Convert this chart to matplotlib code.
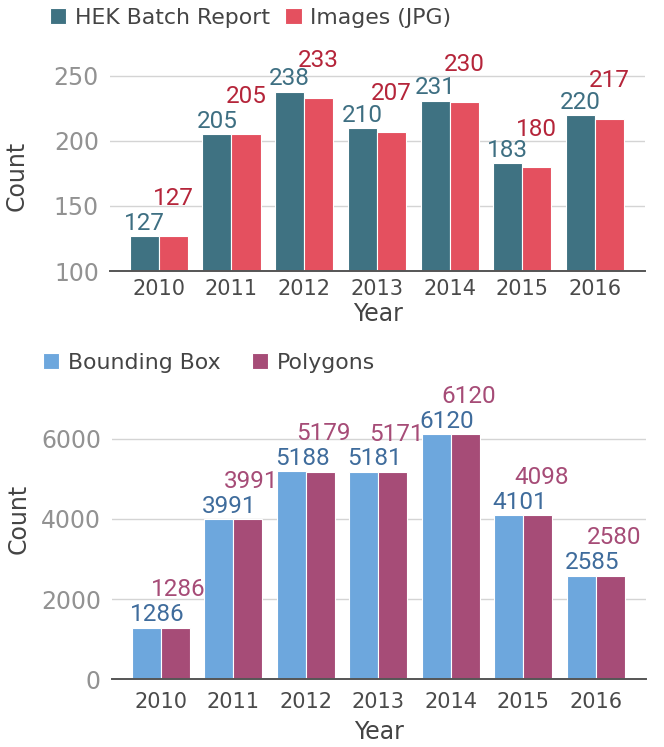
import numpy as np
import matplotlib.pyplot as plt

years = ['2010', '2011', '2012', '2013', '2014', '2015', '2016']
hek_reports = [127, 205, 238, 210, 231, 183, 220]
jpg_images = [127, 205, 233, 207, 230, 180, 217]
bounding_box = [1286, 3991, 5188, 5181, 6120, 4101, 2585]
polygons = [1286, 3991, 5179, 5171, 6120, 4098, 2580]

plt.rcParams['font.family'] = 'DejaVu Sans'

fig = plt.figure(figsize=(6.64, 7.47), dpi=100)
ax1 = fig.add_axes([0.1657, 0.6372, 0.806, 0.296])
ax2 = fig.add_axes([0.1687, 0.091, 0.804, 0.391])

x = np.arange(len(years))
w = 0.4


def draw(ax, a, b, names, colors, label_colors, ylim, yticks, shift, pads, ycount):
    ax.bar(x - w / 2, a, w, color=colors[0], edgecolor='white', linewidth=0.8,
           label=names[0], zorder=2)
    ax.bar(x + w / 2, b, w, color=colors[1], edgecolor='white', linewidth=0.8,
           label=names[1], zorder=2)
    for i in range(len(x)):
        ax.annotate(str(a[i]), (x[i] - w / 2 + shift[0], a[i]), xytext=(0, 1),
                    textcoords='offset points', ha='center', va='bottom',
                    fontsize=17.5, family='Roboto', color=label_colors[0])
        ax.annotate(str(b[i]), (x[i] + w / 2 + shift[1], b[i]), xytext=(0, 19),
                    textcoords='offset points', ha='center', va='bottom',
                    fontsize=17.5, family='Roboto', color=label_colors[1])
    ax.set_ylim(*ylim)
    ax.set_xlim(-0.67, 6.69)
    ax.set_yticks(yticks)
    ax.set_xticks(x)
    ax.set_xticklabels(years)
    ax.tick_params(axis='x', length=0, labelsize=15, colors='#4a4a4a', pad=pads[0])
    ax.tick_params(axis='y', length=0, labelsize=17, colors='#929292', pad=8)
    ax.grid(axis='y', color='#d4d4d4', linewidth=1, zorder=0)
    for s in ['top', 'right', 'left']:
        ax.spines[s].set_visible(False)
    ax.spines['bottom'].set_color('#555555')
    ax.spines['bottom'].set_linewidth(1.4)
    ax.spines['bottom'].set_zorder(3)
    ax.set_xlabel('Year', fontsize=17, color='#444444', labelpad=pads[1])
    ax.set_ylabel('Count', fontsize=17, color='#444444')
    ax.yaxis.set_label_coords(-0.152, ycount)


draw(ax1, hek_reports, jpg_images, ['HEK Batch Report', 'Images (JPG)'],
     ['#3f7282', '#e4505f'], ['#3e6f82', '#b5253a'], (100, 270),
     [100, 150, 200, 250], (0, 0), (6, 2), 0.43)
draw(ax2, bounding_box, polygons, ['Bounding Box', 'Polygons'],
     ['#6da7dd', '#a64c77'], ['#3f6c9c', '#a64c77'], (0, 7300),
     [0, 2000, 4000, 6000], (0.15, 0.05), (9, 6), 0.55)

fig.legend(*ax1.get_legend_handles_labels(), loc='center left',
           bbox_to_anchor=(0.045, 0.976), ncol=2, frameon=False, fontsize=15.8,
           handlelength=0.75, handleheight=0.75, handletextpad=0.4,
           columnspacing=0.7, labelcolor='#444444')
fig.legend(*ax2.get_legend_handles_labels(), loc='center left',
           bbox_to_anchor=(0.035, 0.514), ncol=2, frameon=False, fontsize=15.8,
           handlelength=0.75, handleheight=0.75, handletextpad=0.4,
           columnspacing=1.4, labelcolor='#444444')

fig.savefig('out.png', dpi=100)
plt.close()
